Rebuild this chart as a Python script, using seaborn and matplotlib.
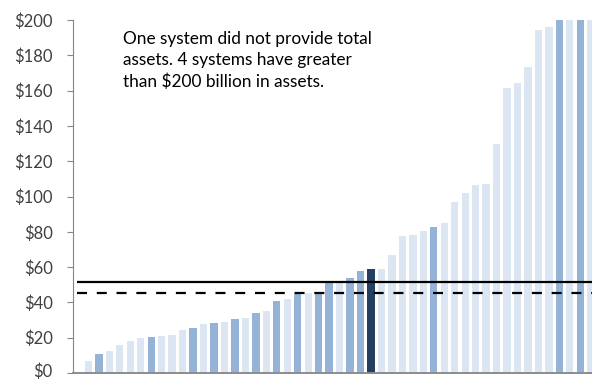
import numpy as np
import pandas as pd
import seaborn as sns
import matplotlib.pyplot as plt
import matplotlib.transforms as mtransforms

# Total assets ($ billions) per system, sorted ascending; first system reported none.
systems = [f"System {i + 1}" for i in range(50)]
assets = [None,
          7.0, 11.0, 12.5, 15.7, 18.0, 19.6, 20.2, 20.8, 21.7, 24.4,
          25.7, 27.6, 28.3, 28.9, 30.8, 31.3, 34.2, 35.3, 40.6, 42.1,
          44.9, 45.3, 45.8, 51.2, 51.8, 54.0, 58.0, 59.0, 59.0, 66.9,
          77.8, 78.4, 80.6, 82.7, 85.0, 96.9, 102.0, 106.5, 106.9, 129.7,
          161.6, 164.5, 173.4, 194.3, 196.2, 235.0, 270.0, 340.0, 520.0]
groups = ["none",
          "other", "peer", "other", "other", "other", "other", "peer", "other", "other", "other",
          "peer", "other", "peer", "other", "peer", "other", "peer", "other", "peer", "other",
          "peer", "other", "peer", "peer", "other", "peer", "peer", "focus", "other", "other",
          "other", "other", "other", "peer", "other", "other", "other", "other", "other", "other",
          "other", "other", "other", "other", "other", "peer", "other", "peer", "other"]
group_colors = {"other": "#DCE6F2", "peer": "#95B3D7", "focus": "#243F60"}

solid_level = 51.7
dashed_level = 45.5

y_ticks = list(range(0, 201, 20))
y_tick_labels = [f"${v}" for v in y_ticks]

note = ("One system did not provide total\n"
        "assets. 4 systems have greater\n"
        "than $200 billion in assets.")

df = pd.DataFrame({"system": systems, "assets": assets, "group": groups})
df = df[df["assets"].notna()]

sns.set_theme(style="white")
plt.rcParams["font.family"] = ["Lato", "DejaVu Sans"]

fig = plt.figure(figsize=(5.92, 3.79), dpi=100)
ax = fig.add_axes([72.7 / 592, 6 / 379, (596 - 72.7) / 592, 353 / 379])

sns.barplot(data=df, x="system", y="assets", hue="group", order=systems,
            palette=group_colors, dodge=False, width=0.7, legend=False,
            saturation=1, linewidth=0, ax=ax)

ax.plot([-0.1, 50], [solid_level, solid_level], color="black", lw=1.6,
        solid_capstyle="butt")
ax.plot([-0.1, 50], [dashed_level, dashed_level], color="black", lw=1.6,
        dashes=(4.5, 4.4))

ax.set_xlim(-0.5, 49.5)
ax.set_ylim(0, 200)
ax.set_yticks(y_ticks)
ax.set_yticklabels(y_tick_labels, fontsize=12, color="#404040")
ax.set_xticks([])
ax.set_xlabel("")
ax.set_ylabel("")
ax.tick_params(axis="y", direction="out", length=4.3, width=0.8,
               color="#868686", pad=10, left=True)
for side in ("top", "right"):
    ax.spines[side].set_visible(False)
ax.spines["left"].set_color("#868686")
ax.spines["left"].set_linewidth(0.8)
ax.spines["bottom"].set_color("#8c8c8c")
ax.spines["bottom"].set_linewidth(1.4)

# keep the lowest tick label inside the canvas
zero_label = ax.get_yticklabels()[0]
zero_label.set_transform(zero_label.get_transform() +
                         mtransforms.ScaledTranslation(0, 2.5 / 100, fig.dpi_scale_trans))

fig.text(123 / 592, 1 - 31 / 379, note, fontsize=12.4, color="black",
         va="top", ha="left", linespacing=1.38)

fig.savefig("out.png", dpi=100)
